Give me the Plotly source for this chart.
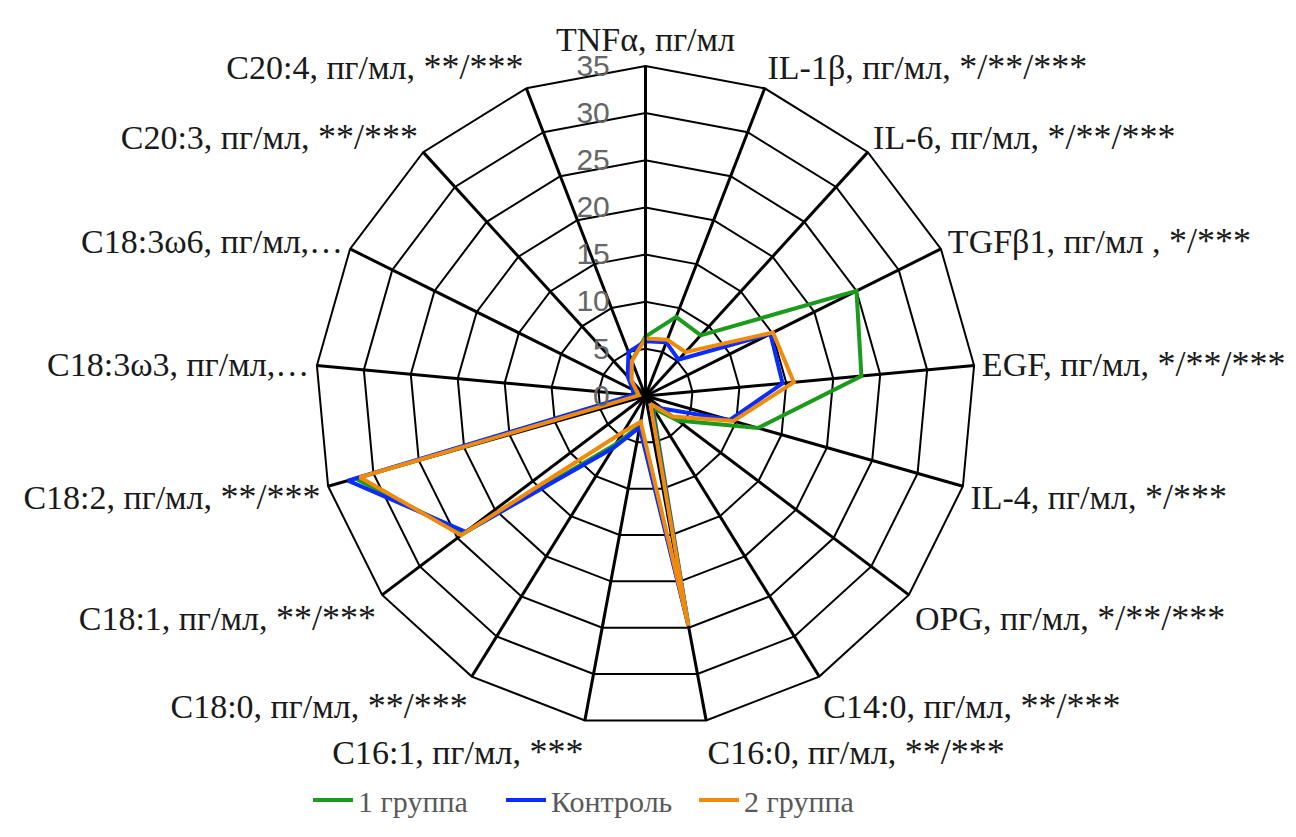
import plotly.graph_objects as go

categories = [
    "TNFα, пг/мл",
    "IL-1β, пг/мл, */**/***",
    "IL-6, пг/мл, */**/***",
    "TGFβ1, пг/мл , */***",
    "EGF, пг/мл, */**/***",
    "IL-4, пг/мл, */***",
    "OPG, пг/мл, */**/***",
    "C14:0, пг/мл, **/***",
    "C16:0, пг/мл, **/***",
    "C16:1, пг/мл, ***",
    "C18:0, пг/мл, **/***",
    "C18:1, пг/мл, **/***",
    "C18:2, пг/мл, **/***",
    "C18:3ω3, пг/мл,…",
    "C18:3ω6, пг/мл,…",
    "C20:3, пг/мл, **/***",
    "C20:4, пг/мл, **/***",
]

group1 = [6.3, 9.0, 8.7, 25.0, 23.0, 12.4, 4.3, 1.5, 24.6, 3.2, 6.0, 24.2, 32.0, 1.0, 1.2, 2.3, 4.0]
control = [5.8, 6.1, 5.2, 14.8, 14.6, 9.3, 2.2, 1.2, 24.8, 3.4, 6.5, 23.9, 32.8, 1.3, 1.5, 2.8, 5.0]
group2 = [6.1, 6.4, 6.3, 15.1, 15.8, 9.7, 3.6, 1.0, 24.8, 2.8, 4.5, 24.5, 31.5, 0.7, 1.0, 2.2, 4.0]

series_names = ["1 группа", "Контроль", "2 группа"]
series_colors = ["#1c9a1c", "#0a2cff", "#ef8a0a"]
radial_ticks = [0, 5, 10, 15, 20, 25, 30, 35]


def fmt_label(s):
    i = s.find("*")
    if i < 0:
        return s
    return s[:i] + "<span style='font-size:36px'>" + s[i:] + "</span>"


ticktext = [fmt_label(c) for c in categories]

fig = go.Figure()
for name, vals, col in zip(series_names, [group1, control, group2], series_colors):
    fig.add_trace(go.Scatterpolar(
        r=vals + vals[:1],
        theta=categories + categories[:1],
        mode="lines",
        name=name,
        line=dict(color=col, width=4),
    ))

# page body has an 8px margin: figure pixel = screen pixel - 8
OFF = 8
W, H = 1296, 837
cx, cy, R = 645.5 - OFF, 396 - OFF, 330
fig.update_layout(
    width=W, height=H,
    margin=dict(l=0, r=0, t=0, b=0),
    paper_bgcolor="white",
    plot_bgcolor="white",
    polar=dict(
        domain=dict(x=[(cx - R) / W, (cx + R) / W], y=[1 - (cy + R) / H, 1 - (cy - R) / H]),
        bgcolor="white",
        gridshape="linear",
        angularaxis=dict(
            direction="clockwise",
            rotation=90,
            categoryorder="array",
            categoryarray=categories,
            tickmode="array",
            tickvals=categories,
            ticktext=ticktext,
            showgrid=True,
            gridcolor="black",
            gridwidth=2.5,
            showline=True,
            linecolor="black",
            linewidth=2,
            ticks="",
            tickfont=dict(family="Liberation Serif", size=34, color="#1a1a1a"),
        ),
        radialaxis=dict(
            range=[0, 35],
            tickvals=radial_ticks,
            angle=90,
            side="counterclockwise",
            showgrid=True,
            gridcolor="black",
            gridwidth=1.8,
            showline=True,
            linecolor="black",
            linewidth=2.5,
            ticks="outside",
            ticklen=24,
            tickcolor="rgba(0,0,0,0)",
            tickangle=90,
            tickfont=dict(family="Liberation Sans", size=30, color="#666666"),
        ),
    ),
    legend=dict(
        orientation="h",
        x=(308 - OFF) / W, xanchor="left",
        y=1 - (800 - OFF) / H, yanchor="middle",
        font=dict(family="Liberation Serif", size=30, color="#595959"),
        itemwidth=40,
        entrywidth=138,
        entrywidthmode="pixels",
    ),
    showlegend=True,
)

fig.write_html("out.html")
